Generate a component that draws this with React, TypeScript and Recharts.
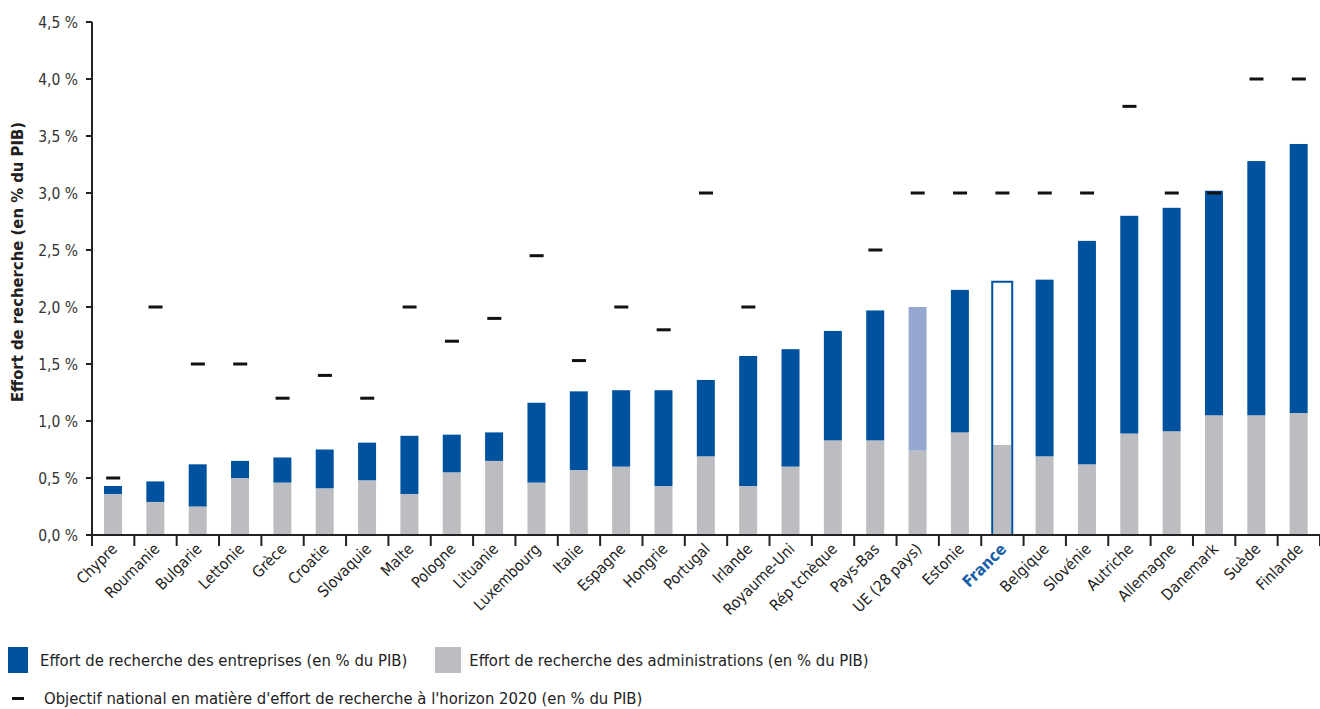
import React from 'react';
import { ComposedChart, Bar, Line, XAxis, YAxis } from 'recharts';

// pays classés par effort de recherche total
const countries = [
  'Chypre', 'Roumanie', 'Bulgarie', 'Lettonie', 'Grèce', 'Croatie', 'Slovaquie', 'Malte',
  'Pologne', 'Lituanie', 'Luxembourg', 'Italie', 'Espagne', 'Hongrie', 'Portugal', 'Irlande',
  'Royaume-Uni', 'Rép tchèque', 'Pays-Bas', 'UE (28 pays)', 'Estonie', 'France', 'Belgique',
  'Slovénie', 'Autriche', 'Allemagne', 'Danemark', 'Suède', 'Finlande',
];

// effort des administrations (% du PIB)
const adminEffort = [
  0.36, 0.29, 0.25, 0.50, 0.46, 0.41, 0.48, 0.36, 0.55, 0.65, 0.46, 0.57, 0.60, 0.43, 0.69, 0.43,
  0.60, 0.83, 0.83, 0.74, 0.90, 0.79, 0.69, 0.62, 0.89, 0.91, 1.05, 1.05, 1.07,
];

// effort des entreprises (% du PIB)
const businessEffort = [
  0.07, 0.18, 0.37, 0.15, 0.22, 0.34, 0.33, 0.51, 0.33, 0.25, 0.70, 0.69, 0.67, 0.84, 0.67, 1.14,
  1.03, 0.96, 1.14, 1.26, 1.25, 1.44, 1.55, 1.96, 1.91, 1.96, 1.97, 2.23, 2.36,
];

// objectif national 2020 (% du PIB)
const targets: (number | null)[] = [
  0.5, 2.0, 1.5, 1.5, 1.2, 1.4, 1.2, 2.0, 1.7, 1.9, 2.45, 1.53, 2.0, 1.8, 3.0, 2.0,
  null, null, 2.5, 3.0, 3.0, 3.0, 3.0, 3.0, 3.76, 3.0, 3.0, 4.0, 4.0,
];

const yTicks = [0, 0.5, 1, 1.5, 2, 2.5, 3, 3.5, 4, 4.5];

const data = countries.map((name, i) => ({
  name,
  admin: adminEffort[i],
  business: businessEffort[i],
  target: targets[i],
}));

const BLUE = '#00529f';
const GRAY = '#bcbdc0';
const EU_BLUE = '#96a8d2';
const INK = '#222';
const FONT = '"Liberation Sans Narrow", "DejaVu Sans Condensed", "Roboto Condensed", Arial, sans-serif';

const W = 1320;
const H = 709;
const Y_W = 92;
const band = (W - Y_W) / countries.length;

const XTick = (props: any) => {
  const { x, y, payload, index } = props;
  const isFr = payload.value === 'France';
  const tx = x + 5;
  const ty = y + 13;
  return (
    <g>
      <line x1={x - band / 2} x2={x - band / 2} y1={y - 1} y2={y + 9} stroke={INK} strokeWidth={2} />
      {index === countries.length - 1 && (
        <line x1={x + band / 2} x2={x + band / 2} y1={y - 1} y2={y + 9} stroke={INK} strokeWidth={2} />
      )}
      <text
        x={tx}
        y={ty}
        textAnchor="end"
        transform={`rotate(-45 ${tx} ${ty})`}
        fontSize={isFr ? 16 : 15.5}
        fontFamily={FONT}
        fontWeight={isFr ? 700 : 400}
        fill={isFr ? '#1a5ea8' : '#222'}
      >
        {payload.value}
      </text>
    </g>
  );
};

const adminShape = (p: any) => {
  const { x, y, width, height, index } = p;
  if (countries[index] === 'France') {
    return (
      <g>
        <rect x={x} y={y} width={width} height={height} fill={GRAY} />
        <line x1={x - 1} x2={x - 1} y1={y} y2={y + height} stroke={BLUE} strokeWidth={2} />
        <line x1={x + width + 1} x2={x + width + 1} y1={y} y2={y + height} stroke={BLUE} strokeWidth={2} />
      </g>
    );
  }
  return <rect x={x} y={y} width={width} height={height} fill={GRAY} />;
};

const businessShape = (p: any) => {
  const { x, y, width, height, index } = p;
  const name = countries[index];
  if (name === 'France') {
    return (
      <g>
        <rect x={x} y={y} width={width} height={height} fill="#fff" />
        <path
          d={`M${x - 1},${y + height} L${x - 1},${y + 1} L${x + width + 1},${y + 1} L${x + width + 1},${y + height}`}
          fill="none"
          stroke={BLUE}
          strokeWidth={2}
        />
      </g>
    );
  }
  return <rect x={x} y={y} width={width} height={height} fill={name === 'UE (28 pays)' ? EU_BLUE : BLUE} />;
};

const renderDash = (p: any) => {
  const { cx, cy, index } = p;
  if (targets[index] == null || cy == null) return <g key={`t${index}`} />;
  return <rect key={`t${index}`} x={cx - 7} y={cy - 1.5} width={14} height={3} fill="#111" />;
};

const legendText: React.CSSProperties = { fontFamily: FONT, fontSize: 16.5, color: '#222' };

export default function App() {
  return (
    <div style={{ position: 'absolute', left: 0, top: 0, width: W, height: H, background: '#fff' }}>
      <ComposedChart width={W} height={H} data={data} margin={{ top: 22, right: 0, bottom: 0, left: 0 }}>
        <XAxis
          dataKey="name"
          interval={0}
          height={174}
          tickLine={false}
          tickSize={0}
          axisLine={{ stroke: INK, strokeWidth: 2 }}
          tick={(p: any) => <XTick {...p} />}
        />
        <YAxis
          width={Y_W}
          domain={[0, 4.5]}
          ticks={yTicks}
          interval={0}
          axisLine={{ stroke: INK, strokeWidth: 2 }}
          tickLine={{ stroke: INK, strokeWidth: 2 }}
          tickSize={6}
          tickMargin={8}
          tick={{ fill: '#333', fontSize: 15.5, fontFamily: FONT }}
          tickFormatter={(v: number) => `${v.toFixed(1).replace('.', ',')} %`}
          label={{
            content: () => (
              <text
                x={18}
                y={262}
                transform="rotate(-90 18 262)"
                textAnchor="middle"
                dominantBaseline="middle"
                fontSize={16.5}
                fontWeight={700}
                fontFamily={FONT}
                fill="#222"
              >
                Effort de recherche (en % du PIB)
              </text>
            ),
          }}
        />
        <Bar dataKey="admin" stackId="s" barSize={18} fill={GRAY} shape={adminShape} isAnimationActive={false} />
        <Bar dataKey="business" stackId="s" barSize={18} fill={BLUE} shape={businessShape} isAnimationActive={false} />
        <Line
          dataKey="target"
          stroke="none"
          dot={renderDash}
          activeDot={false}
          connectNulls={false}
          legendType="none"
          isAnimationActive={false}
        />
      </ComposedChart>
      <div style={{ position: 'absolute', left: 8, top: 647, display: 'flex', alignItems: 'center' }}>
        <span style={{ width: 20, height: 26, background: BLUE, display: 'inline-block' }} />
        <span style={{ ...legendText, marginLeft: 12 }}>Effort de recherche des entreprises (en % du PIB)</span>
        <span style={{ width: 26, height: 26, background: GRAY, display: 'inline-block', marginLeft: 28 }} />
        <span style={{ ...legendText, marginLeft: 8 }}>Effort de recherche des administrations (en % du PIB)</span>
      </div>
      <div style={{ position: 'absolute', left: 12, top: 689, display: 'flex', alignItems: 'center' }}>
        <span style={{ width: 12, height: 3, background: '#111', display: 'inline-block' }} />
        <span style={{ ...legendText, marginLeft: 20 }}>
          Objectif national en matière d'effort de recherche à l'horizon 2020 (en % du PIB)
        </span>
      </div>
    </div>
  );
}
